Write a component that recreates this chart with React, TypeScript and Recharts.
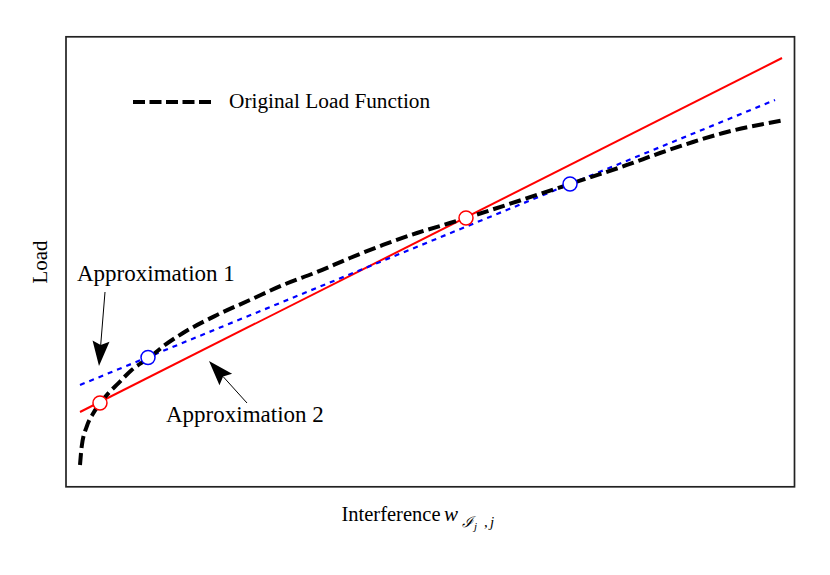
import React from 'react';
import { ComposedChart, Line, Scatter, XAxis, YAxis } from 'recharts';

// Original load function (x: interference, y: load) in arbitrary units 0..100
const originalX = [1.92, 2.15, 2.84, 3.74, 4.66, 5.8, 7.17, 9.01, 11.29, 13.58, 16.05, 20.71, 25.24, 29.77, 34.43, 38.96, 43.48, 48.15, 52.67, 54.87, 62.28, 69.14, 76.95, 81.48, 86.01, 90.67, 98.22];
const originalY = [4.89, 8.96, 13.4, 16.38, 18.6, 20.82, 23.04, 26.0, 28.6, 31.56, 34.22, 38.22, 41.56, 44.89, 47.78, 50.89, 53.78, 56.44, 58.67, 59.78, 63.67, 67.33, 71.56, 74.22, 76.67, 78.89, 81.44];

// Approximation 1 (blue dotted) endpoints
const approx1X = [1.92, 97.26];
const approx1Y = [22.67, 86.0];
// Approximation 2 (red solid) endpoints
const approx2X = [1.92, 98.22];
const approx2Y = [16.67, 95.33];

// Tangent points
const approx1PtsX = [11.25, 69.14];
const approx1PtsY = [28.78, 67.33];
const approx2PtsX = [4.66, 54.87];
const approx2PtsY = [18.67, 59.78];

const zip = (xs: number[], ys: number[]) => xs.map((x, i) => ({ x, y: ys[i] }));

const originalData = zip(originalX, originalY);
const approx1Data = zip(approx1X, approx1Y);
const approx2Data = zip(approx2X, approx2Y);
const approx1Pts = zip(approx1PtsX, approx1PtsY);
const approx2Pts = zip(approx2PtsX, approx2PtsY);

const FONT = '"Liberation Serif", "Times New Roman", serif';

function Arrow({ x1, y1, x2, y2 }: { x1: number; y1: number; x2: number; y2: number }) {
  const dx = x2 - x1;
  const dy = y2 - y1;
  const len = Math.sqrt(dx * dx + dy * dy);
  const ux = dx / len;
  const uy = dy / len;
  const px = -uy;
  const py = ux;
  const L = 25;
  const W = 8.5;
  const bx = x2 - ux * L;
  const by = y2 - uy * L;
  const ix = x2 - ux * (L - 4);
  const iy = y2 - uy * (L - 4);
  const pts = [
    [x2, y2],
    [bx + px * W, by + py * W],
    [ix, iy],
    [bx - px * W, by - py * W],
  ]
    .map((p) => p.join(','))
    .join(' ');
  return (
    <g>
      <line x1={x1} y1={y1} x2={ix} y2={iy} stroke="#000" strokeWidth={1} />
      <polygon points={pts} fill="#000" />
    </g>
  );
}

const circleShape = (color: string) => (props: any) => (
  <circle cx={props.cx} cy={props.cy} r={7} fill="#fff" stroke={color} strokeWidth={1.5} />
);

export default function App() {
  return (
    <div style={{ position: 'absolute', left: 0, top: 0, width: 830, height: 575, background: '#fff' }}>
      <ComposedChart width={830} height={575} margin={{ top: 37, right: 35, bottom: 88, left: 66 }}>
        <XAxis type="number" dataKey="x" domain={[0, 100]} hide allowDataOverflow />
        <YAxis type="number" dataKey="y" domain={[0, 100]} hide allowDataOverflow />
        <Line
          data={approx2Data}
          dataKey="y"
          type="linear"
          stroke="#ff0000"
          strokeWidth={2}
          dot={false}
          isAnimationActive={false}
        />
        <Line
          data={approx1Data}
          dataKey="y"
          type="linear"
          stroke="#0000ff"
          strokeWidth={2.2}
          strokeDasharray="5 5"
          dot={false}
          isAnimationActive={false}
        />
        <Line
          data={originalData}
          dataKey="y"
          type="monotone"
          stroke="#000"
          strokeWidth={4}
          strokeDasharray="12 5"
          dot={false}
          isAnimationActive={false}
        />
        <Scatter data={approx2Pts} dataKey="y" shape={circleShape('#ff0000')} isAnimationActive={false} />
        <Scatter data={approx1Pts} dataKey="y" shape={circleShape('#0000ff')} isAnimationActive={false} />
      </ComposedChart>
      <svg
        width={830}
        height={575}
        style={{ position: 'absolute', left: 0, top: 0, pointerEvents: 'none' }}
        fontFamily={FONT}
      >
        <rect x={66} y={36.8} width={728.5} height={450} fill="none" stroke="#222" strokeWidth={1.7} />
        {/* legend */}
        <line x1={133} y1={102} x2={211} y2={102} stroke="#000" strokeWidth={4} strokeDasharray="12 4.5" />
        <text x={229} y={108} fontSize={21.3} fill="#000">Original Load Function</text>
        {/* annotations */}
        <text x={77} y={281} fontSize={23} fill="#000">Approximation 1</text>
        <Arrow x1={105} y1={292} x2={99} y2={366} />
        <text x={166} y={422} fontSize={23} fill="#000">Approximation 2</text>
        <Arrow x1={247} y1={403} x2={209} y2={361} />
        {/* axis labels */}
        <text x={47} y={262} fontSize={21} fill="#000" textAnchor="middle" transform="rotate(-90 47 262)">Load</text>
        <text x={341.5} y={521} fontSize={20.5} fill="#000">
          Interference
        </text>
        <text x={444} y={521} fontSize={21} fill="#000" fontStyle="italic">w</text>
        <text x={462} y={527} fontSize={15} fill="#000" fontStyle="italic">ℐ</text>
        <text x={474} y={530} fontSize={11} fill="#000" fontStyle="italic">j</text>
        <text x={484} y={527} fontSize={15} fill="#000">,</text>
        <text x={490} y={527} fontSize={15} fill="#000" fontStyle="italic">j</text>
      </svg>
    </div>
  );
}
